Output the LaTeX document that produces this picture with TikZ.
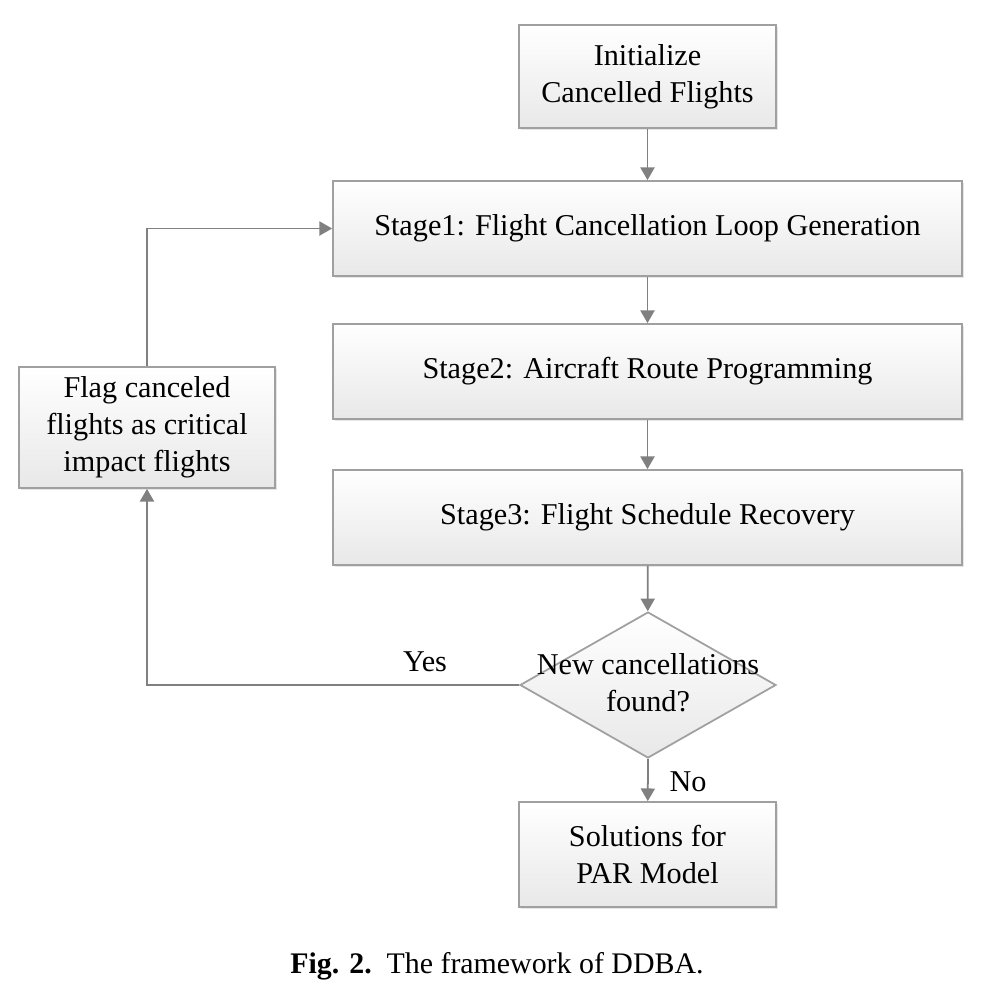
\documentclass[tikz,border=0pt]{standalone}
\usepackage{fontspec}
\setmainfont{Liberation Serif}
\usetikzlibrary{arrows.meta,shapes.geometric,shadows}
\definecolor{linegray}{HTML}{808080}
\definecolor{boxgray}{HTML}{A0A0A0}
\tikzset{
  stagebox/.style={draw=boxgray, line width=0.5pt, top color=white, bottom color=black!9,
    drop shadow={shadow xshift=0.6pt, shadow yshift=-0.6pt, opacity=0.2},
    align=center, inner sep=0pt, font=\fontsize{8.6}{10.6}\selectfont},
  decision/.style={diamond, draw=boxgray, line width=0.5pt, top color=white, bottom color=black!9,
    inner sep=0pt, minimum width=2.56cm, minimum height=1.46cm},
  flow/.style={draw=linegray, line width=0.5pt, -{Triangle[length=3.6pt,width=4pt]}},
  lbl/.style={font=\fontsize{8.6}{10.6}\selectfont}
}
\begin{document}
\begin{tikzpicture}
\useasboundingbox (0,0) rectangle (10,-10.04);
% boxes
\node (init) at (6.475,-0.765) [stagebox, minimum width=2.57cm, minimum height=1.03cm] {Initialize\\Cancelled Flights};
\node (stage1) at (6.475,-2.285) [stagebox, minimum width=6.29cm, minimum height=0.95cm] {Stage1: Flight Cancellation Loop Generation};
\node (stage2) at (6.475,-3.715) [stagebox, minimum width=6.29cm, minimum height=0.95cm] {Stage2: Aircraft Route Programming};
\node (stage3) at (6.475,-5.175) [stagebox, minimum width=6.29cm, minimum height=0.95cm] {Stage3: Flight Schedule Recovery};
\node (check) at (6.48,-6.85) [decision] {};
\node (checktext) at (6.48,-6.83) [lbl, align=center] {New cancellations\\found?};
\node (solution) at (6.475,-8.545) [stagebox, minimum width=2.57cm, minimum height=1.05cm] {Solutions for\\PAR Model};
\node (flag) at (1.47,-4.275) [stagebox, minimum width=2.56cm, minimum height=1.21cm] {Flag canceled\\flights as critical\\impact flights};
% connectors
\draw [flow] (init) -- (stage1);
\draw [flow] (stage1) -- (stage2);
\draw [flow] (stage2) -- (stage3);
\draw [flow] (stage3) -- (check);
\draw [flow] (check.south) -- (solution);
\draw [flow] (check.west) -| (flag.south);
\draw [flow] (flag.north) |- (stage1.west);
% labels
\node (yes) at (4.25,-6.62) [lbl] {Yes};
\node (no) at (6.88,-7.82) [lbl] {No};
\node (caption) at (4.97,-9.66) [font=\fontsize{8.5}{10}\selectfont] {\textbf{Fig. 2.}\enspace The framework of DDBA.};
\end{tikzpicture}
\end{document}
